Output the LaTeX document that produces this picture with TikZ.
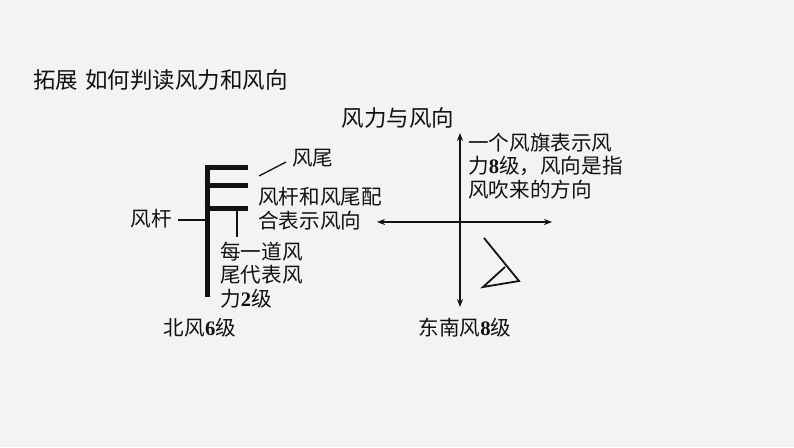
\documentclass[tikz,border=0pt]{standalone}
\usepackage{fontspec}
\setmainfont{Liberation Serif}
\newfontfamily\cjk{Noto Sans CJK SC}
\newcommand{\dg}[1]{{\rmfamily\bfseries #1}}
\usetikzlibrary{arrows.meta}
\definecolor{bgcol}{HTML}{F3F3F3}
\definecolor{ink}{HTML}{111111}
\tikzset{
  lbl/.style={inner sep=0pt, text=ink, font=\cjk\fontsize{20.6}{23.5}\selectfont, align=left},
  ttl/.style={inner sep=0pt, text=ink, font=\cjk\fontsize{22.5}{26}\selectfont},
  thin/.style={draw=ink, line width=1.3pt},
  bar/.style={draw=ink, line width=5pt},
  axis/.style={draw=ink, line width=1.6pt, {Stealth[length=8pt,width=6pt]}-{Stealth[length=8pt,width=6pt]}},
}
\begin{document}
\begin{tikzpicture}[x=1pt,y=-1pt]
\useasboundingbox (0,0) rectangle (794,447);
\fill[bgcol] (0,0) rectangle (794,447);

% title
\node[ttl, anchor=west] (title) at (33,80) {拓展\hspace{7pt}如何判读风力和风向};
\node[ttl] (sub) at (398,118) {风力与风向};

% left wind barb
\coordinate (pb) at (207,297);
\draw[bar, line cap=butt] (207,164.5) -- (pb);
\coordinate (b1s) at (204.5,167.5); \coordinate (b1e) at (248,167.5);
\coordinate (b2s) at (204.5,185.5); \coordinate (b2e) at (248,185.5);
\coordinate (b3s) at (204.5,208.5); \coordinate (b3e) at (248,208.5);
\draw[bar] (b1s) -- (b1e);
\draw[bar] (b2s) -- (b2e);
\draw[bar] (b3s) -- (b3e);

\node[lbl, anchor=east] (gan) at (172,219) {风杆};
\coordinate (ganp) at (205,220);
\draw[thin] (178,220) -- (ganp);

\node[lbl, anchor=west] (wei) at (292,158) {风尾};
\coordinate (weia) at (259,176);
\coordinate (weib) at (286,162);
\draw[thin] (weia) -- (weib);

\node[lbl, anchor=north west] (pei) at (258,187) {风杆和风尾配\\合表示风向};

\coordinate (mt) at (237,211);
\coordinate (mb) at (237,237);
\draw[thin] (mt) -- (mb);
\node[lbl, anchor=north west] (mei) at (220,241.5) {每一道风\\尾代表风\\力\dg{2}级};

\node[lbl] (bei) at (200,328) {北风\dg{6}级};

% right axes
\coordinate (vt) at (460,133);
\coordinate (vb) at (460,307);
\coordinate (hl) at (377,222);
\coordinate (hr) at (552,222);
\draw[axis] (vb) -- (vt);
\draw[axis] (hl) -- (hr);

\node[lbl, anchor=north west] (qi) at (468,132.5) {一个风旗表示风\\力\dg{8}级，风向是指\\风吹来的方向};

% flag
\coordinate (fa) at (484,238);
\coordinate (fb) at (519,281);
\coordinate (fc) at (483,287);
\coordinate (fd) at (505,267);
\draw[thin, line width=1.8pt, line join=miter] (fa) -- (fb) -- (fc) -- (fd);

\node[lbl] (dn) at (465,328) {东南风\dg{8}级};
\end{tikzpicture}
\end{document}
